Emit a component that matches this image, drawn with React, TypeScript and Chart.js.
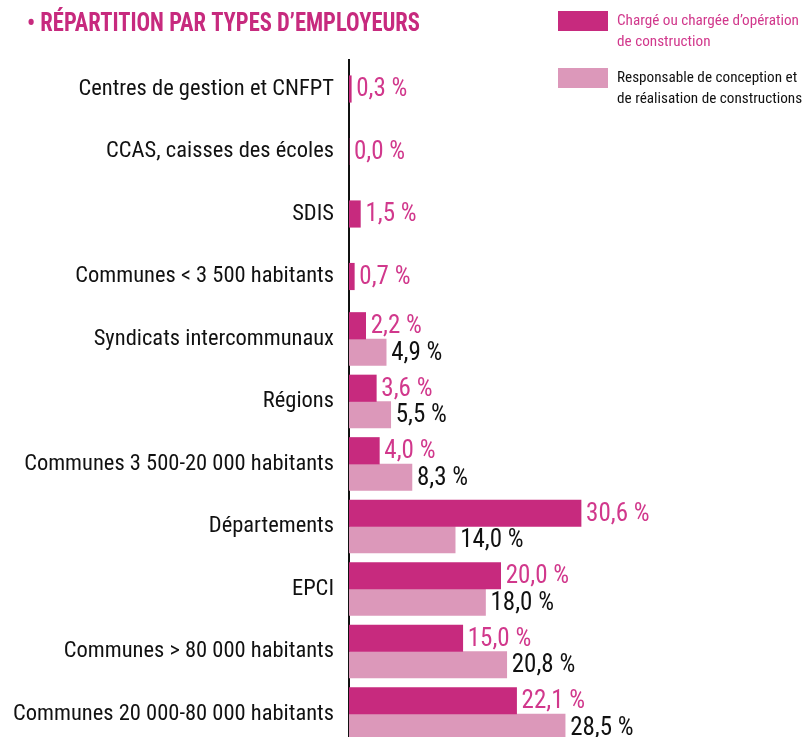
import { useEffect, useRef } from "react";
import { Chart, registerables } from "chart.js";

Chart.register(...registerables);

const FONT = '"Roboto Condensed", "Liberation Sans", sans-serif';

const titleText = "• RÉPARTITION PAR TYPES D’EMPLOYEURS";

const categories = [
  "Centres de gestion et CNFPT",
  "CCAS, caisses des écoles",
  "SDIS",
  "Communes < 3 500 habitants",
  "Syndicats intercommunaux",
  "Régions",
  "Communes 3 500-20 000 habitants",
  "Départements",
  "EPCI",
  "Communes > 80 000 habitants",
  "Communes 20 000-80 000 habitants",
];

const seriesLabels = [
  "Chargé ou chargée d’opération\nde construction",
  "Responsable de conception et\nde réalisation de constructions",
];

const chargeOperation = [0.3, 0.0, 1.5, 0.7, 2.2, 3.6, 4.0, 30.6, 20.0, 15.0, 22.1];
const responsableConception = [null, null, null, null, 4.9, 5.5, 8.3, 14.0, 18.0, 20.8, 28.5];

const DARK = "#C72A7E";
const LIGHT = "#DC98BA";
const DARK_TEXT = "#D1388C";
const TEXT = "#111111";

const fmt = (v: number) => v.toFixed(1).replace(".", ",") + " %";

const overlayPlugin = {
  id: "overlay",
  afterDatasetsDraw(chart: any) {
    const ctx = chart.ctx;
    ctx.save();
    ctx.font = `25px ${FONT}`;
    ctx.textAlign = "left";
    ctx.textBaseline = "middle";
    chart.data.datasets.forEach((ds: any, di: number) => {
      const meta = chart.getDatasetMeta(di);
      meta.data.forEach((el: any, i: number) => {
        const raw = ds.data[i].x;
        if (raw === null || raw === undefined) return;
        ctx.fillStyle = di === 0 ? DARK_TEXT : TEXT;
        ctx.fillText(fmt(raw), el.x + 5, el.y + 1);
      });
    });
    ctx.restore();
  },
  afterDraw(chart: any) {
    const ctx = chart.ctx;
    ctx.save();
    // title
    ctx.font = `bold 25px ${FONT}`;
    ctx.fillStyle = DARK;
    ctx.textAlign = "left";
    ctx.textBaseline = "alphabetic";
    const w = ctx.measureText(titleText).width;
    const sx = Math.min(1, 393 / w);
    ctx.save();
    ctx.translate(27, 31);
    ctx.scale(sx, 1);
    ctx.fillText(titleText, 0, 0);
    ctx.restore();
    // legend
    ctx.font = `15.2px ${FONT}`;
    ctx.textBaseline = "middle";
    chart.data.datasets.forEach((ds: any, di: number) => {
      const top = 11 + di * 57;
      ctx.fillStyle = ds.backgroundColor;
      ctx.fillRect(558, top, 50, 20);
      ctx.fillStyle = di === 0 ? DARK_TEXT : TEXT;
      String(ds.label)
        .split("\n")
        .forEach((line: string, li: number) => {
          ctx.fillText(line, 617, top + 10 + li * 21);
        });
    });
    ctx.restore();
  },
};

export default function App() {
  const canvasRef = useRef<HTMLCanvasElement | null>(null);

  useEffect(() => {
    document.body.style.margin = "0";
    const canvas = canvasRef.current;
    if (!canvas) return;
    const chart = new Chart(canvas, {
      type: "bar",
      data: {
        datasets: [
          {
            label: seriesLabels[0],
            data: categories.map((_, i) => ({ y: i, x: chargeOperation[i] })) as any,
            backgroundColor: DARK,
            barThickness: 26.5,
            skipNull: true,
          } as any,
          {
            label: seriesLabels[1],
            data: categories.map((_, i) => ({ y: i, x: responsableConception[i] })) as any,
            backgroundColor: LIGHT,
            barThickness: 26.5,
            skipNull: true,
          } as any,
        ],
      },
      options: {
        indexAxis: "y",
        animation: false,
        responsive: true,
        maintainAspectRatio: false,
        layout: { padding: { top: 60, right: 7, left: 0, bottom: 0 } },
        plugins: {
          legend: { display: false },
          title: { display: false },
          tooltip: { enabled: false },
        },
        scales: {
          x: { type: "linear", display: false, min: 0, max: 60, offset: false },
          y: {
            type: "linear",
            reverse: true,
            offset: false,
            min: -0.464,
            max: 10.368,
            afterBuildTicks: (s: any) => {
              s.ticks = categories.map((_, i) => ({ value: i }));
            },
            afterFit: (s: any) => {
              s.width = 349;
              s.paddingTop = 0;
              s.paddingBottom = 0;
            },
            ticks: {
              autoSkip: false,
              padding: 15,
              color: TEXT,
              font: { family: FONT, size: 22.5 },
              callback: (v: any) => categories[v as number] ?? "",
            },
            grid: { display: false, drawTicks: false, offset: false },
            border: { display: true, color: TEXT, width: 2 },
          },
        },
      } as any,
      plugins: [overlayPlugin],
    });
    return () => chart.destroy();
  }, []);

  return (
    <div style={{ position: "relative", width: 811, height: 737 }}>
      <canvas ref={canvasRef} />
    </div>
  );
}
